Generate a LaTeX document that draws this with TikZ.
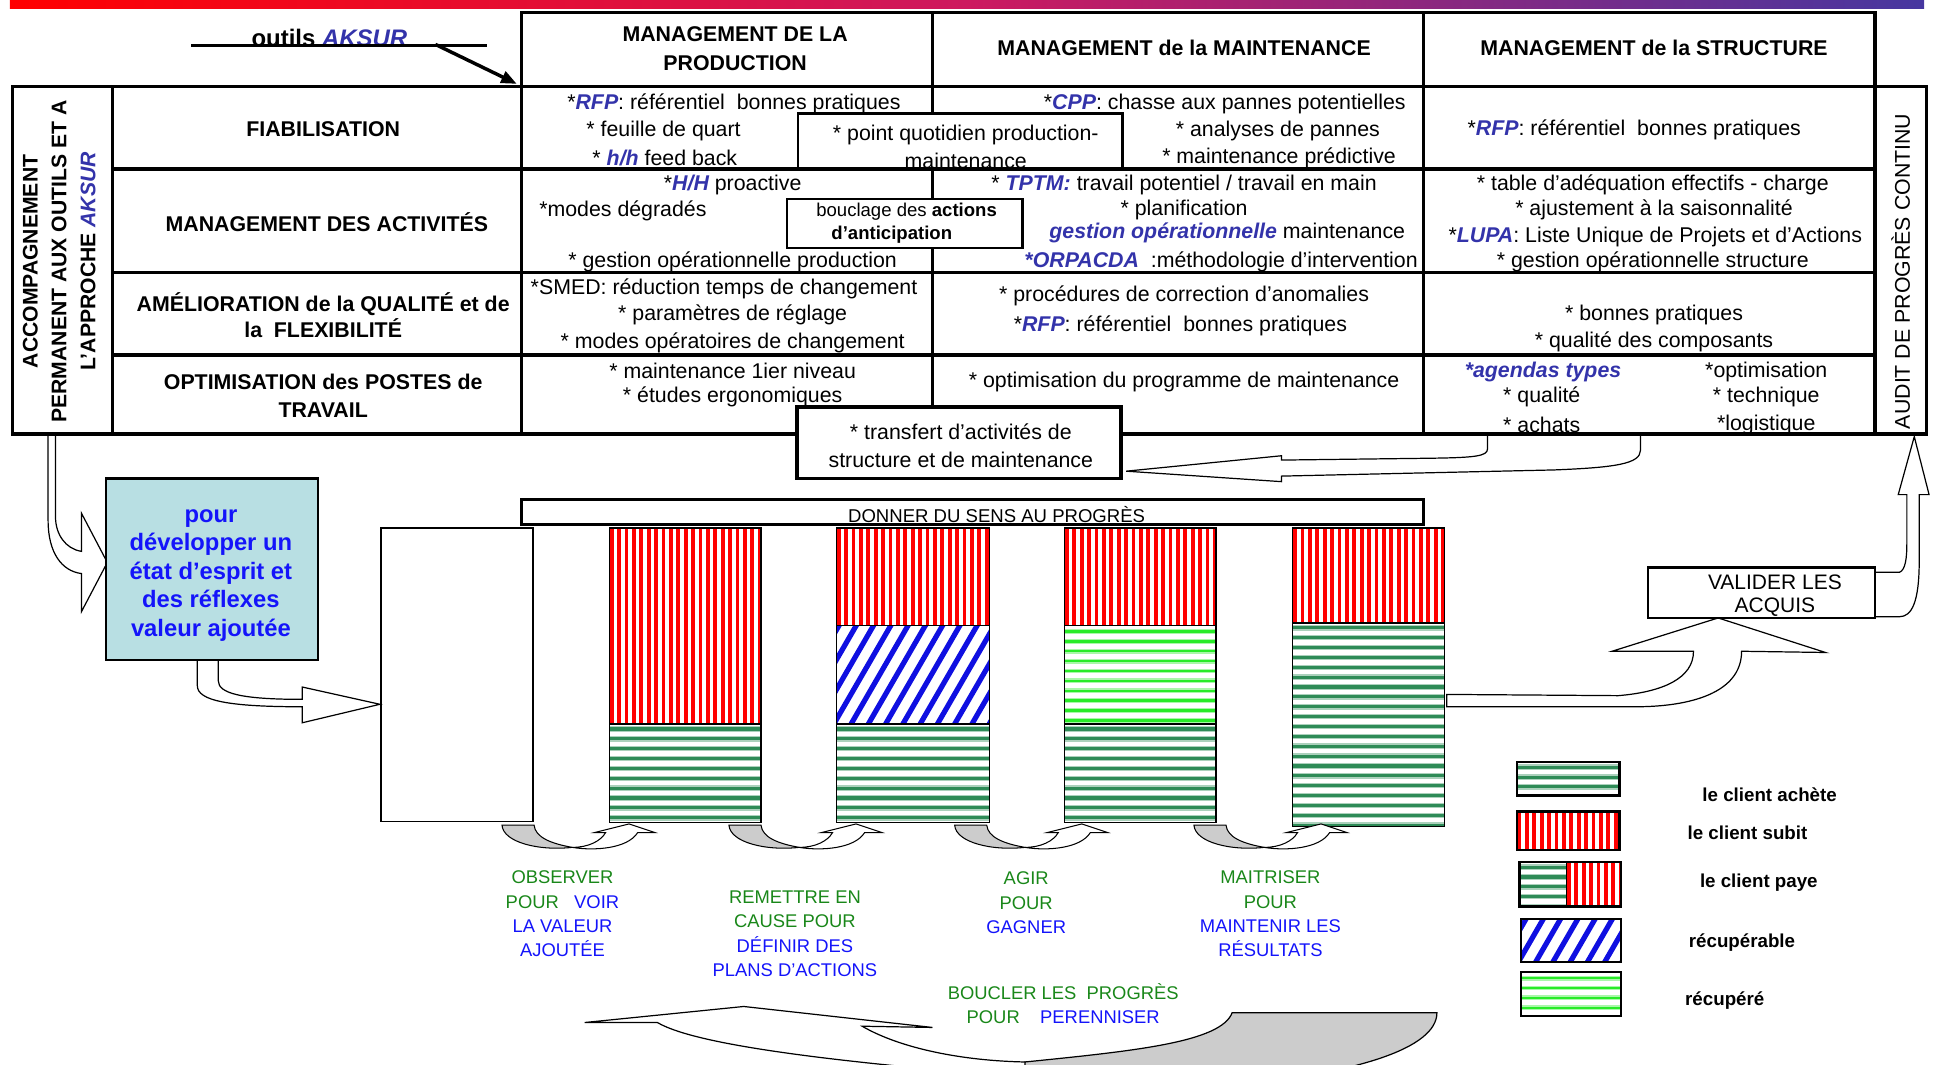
\documentclass[tikz,border=0pt]{standalone}
\usepackage{fontspec}
\setmainfont{Liberation Sans}
\usetikzlibrary{arrows.meta}

\definecolor{aksurblue}{RGB}{51,51,170}
\definecolor{txtblue}{RGB}{20,20,250}
\definecolor{txtgreen}{RGB}{25,135,25}
\definecolor{cyanbox}{RGB}{184,223,227}
\definecolor{achetegreen}{RGB}{46,139,87}
\definecolor{recupgreen}{RGB}{40,235,40}
\definecolor{hatchblue}{RGB}{15,15,225}
\definecolor{barmid}{RGB}{205,25,95}
\definecolor{barend}{RGB}{70,55,160}

\newcommand{\ak}[1]{\textcolor{aksurblue}{\bfseries\itshape #1}}
\newcommand{\gr}[1]{\textcolor{txtgreen}{#1}}
\newcommand{\bl}[1]{\textcolor{txtblue}{#1}}

\newcommand{\subit}[4]{%
\begin{scope}
\clip (#1,#2) rectangle (#3,#4);
\fill[white] (#1,#2) rectangle (#3,#4);
\foreach \s in {0,6,...,126}
  \draw[red,line width=2.2pt] ({#1+\s+2},#2) -- ({#1+\s+2},#4);
\end{scope}
\draw[line width=0.8pt] (#1,#2) rectangle (#3,#4);}

\newcommand{\achete}[4]{%
\begin{scope}
\clip (#1,#2) rectangle (#3,#4);
\fill[white] (#1,#2) rectangle (#3,#4);
\foreach \s in {0,8,...,168} {
  \draw[achetegreen!40,line width=3.2pt] (#1,{#2+\s+4}) -- (#3,{#2+\s+4});
  \draw[achetegreen,line width=1.8pt] (#1,{#2+\s+4}) -- (#3,{#2+\s+4});}
\end{scope}
\draw[line width=0.8pt] (#1,#2) rectangle (#3,#4);}

\newcommand{\recupere}[4]{%
\begin{scope}
\clip (#1,#2) rectangle (#3,#4);
\fill[white] (#1,#2) rectangle (#3,#4);
\foreach \s in {0,8,...,168} {
  \draw[recupgreen!40,line width=2.8pt] (#1,{#2+\s+5}) -- (#3,{#2+\s+5});
  \draw[recupgreen,line width=1.4pt] (#1,{#2+\s+5}) -- (#3,{#2+\s+5});}
\end{scope}
\draw[line width=0.8pt] (#1,#2) rectangle (#3,#4);}

\newcommand{\recuperable}[4]{%
\begin{scope}
\clip (#1,#2) rectangle (#3,#4);
\fill[white] (#1,#2) rectangle (#3,#4);
\foreach \s in {-100,-86,...,130}
  \draw[hatchblue,line width=3pt] ({#1+\s},#4) -- ++(70,-121);
\end{scope}
\draw[line width=0.8pt] (#1,#2) rectangle (#3,#4);}

\newcommand{\uturn}[1]{%
\path[fill=gray!40,draw,line width=0.6pt] (#1,669) .. controls ({#1+1},683) and ({#1+30},690) .. ({#1+57},687)
  .. controls ({#1+40},684) and ({#1+27},679) .. ({#1+26},669) -- cycle;
\path[fill=white,draw,line width=0.6pt] ({#1+57},687) .. controls ({#1+70},687) and ({#1+80},682) .. ({#1+84},675)
  -- ({#1+75},675) -- ({#1+103},668) -- ({#1+124},675) -- ({#1+110},675)
  .. controls ({#1+102},688) and ({#1+75},690) .. ({#1+57},687) -- cycle;}

\begin{document}
\begin{tikzpicture}[x=0.025cm,y=-0.025cm,
txt/.style={inner sep=0pt,align=center,font=\fontsize{12.3}{15.8}\selectfont},
hd/.style={inner sep=0pt,align=center,font=\fontsize{12.3}{16.4}\selectfont\bfseries},
lab/.style={inner sep=0pt,align=center,font=\fontsize{10.6}{14}\selectfont},
leg/.style={inner sep=0pt,anchor=west,font=\fontsize{10.8}{13}\selectfont\bfseries},
tbl/.style={line width=2pt,line cap=rect},
blk/.style={fill=white,draw,line width=0.7pt}]

\useasboundingbox (0,0) rectangle (1568,863);
\clip (0,0) rectangle (1568,863);

\shade[left color=red,right color=barend,middle color=barmid] (8,0) rectangle (1560,7);

\path[blk] (1206,352) -- (1206,364) .. controls (1206,370) and (1195,371) .. (1160,371.5) -- (1039,373) -- (1039,369.5)
  -- (913,382) -- (1039,390.5) -- (1039,386) -- (1260,381) .. controls (1310,379) and (1330,376) .. (1330,365) -- (1330,352);
\path[blk] (39,352) -- (39,422) .. controls (39,448) and (50,463) .. (66,465) -- (66,496) -- (87,456) -- (66,416)
  -- (66,447) .. controls (53,445) and (45,433) .. (45,419) -- (45,352);
\path[blk] (160,535) -- (160,556) .. controls (160,568) and (185,573) .. (245,573) -- (245,586) -- (308,571) -- (245,557)
  -- (245,567) .. controls (195,567) and (177,562) .. (177,552) -- (177,535);
\path[blk] (1173,563) -- (1312,564) .. controls (1348,561) and (1373,550) .. (1373,528) -- (1307,528) -- (1393,501)
  -- (1480,529) -- (1412,528) .. controls (1412,562) and (1370,573) .. (1326,573) -- (1173,573) -- cycle;
\path[blk] (1520,464) -- (1540,464) .. controls (1545,462) and (1546,452) .. (1546,440) -- (1546,401) -- (1539,401)
  -- (1552,354) -- (1564,401) -- (1556,401) -- (1556,455) .. controls (1556,488) and (1550,500) .. (1540,500) -- (1520,500);

\draw[tbl] (423,10) -- (1520,10);
\draw[tbl] (10,70) rectangle (1562,352);
\foreach \y in {137,221,288} \draw[tbl] (91,\y) -- (1520,\y);
\foreach \x in {423,756,1154,1520} \draw[tbl] (\x,10) -- (\x,352);
\draw[tbl] (91,70) -- (91,352);

\fill[white] (647,92) rectangle (910,135.5);
\draw[line width=1.4pt] (647,137) -- (647,92) -- (910,92) -- (910,137);
\draw[fill=white,line width=1.2pt] (638,161) rectangle (829,201);
\draw[fill=white,line width=2.2pt] (646,330) rectangle (909,388);

\node[hd] (1) at (596,39.5) {MANAGEMENT DE LA\\PRODUCTION};
\node[hd] (2) at (960,39) {MANAGEMENT de la MAINTENANCE};
\node[hd] (3) at (1341,39) {MANAGEMENT de la STRUCTURE};
\node[hd] (4) at (262,105) {FIABILISATION};
\node[hd] (5) at (265,180) {MANAGEMENT DES ACTIVITÉS};
\node[hd,font=\fontsize{12.3}{15}\selectfont\bfseries] (6) at (262,255.5) {AMÉLIORATION de la QUALITÉ et de\\la\ \ FLEXIBILITÉ};
\node[hd,font=\fontsize{12.3}{16}\selectfont\bfseries] (7) at (262,321) {OPTIMISATION des POSTES de\\TRAVAIL};

\node[txt] (8) at (595,84) {*\ak{RFP}: référentiel\ \ bonnes pratiques};
\node[txt] (9) at (538,106) {* feuille de quart};
\node[txt] (10) at (539,128) {* \ak{h/h} feed back};
\node[txt] (11) at (783,119) {* point quotidien production-\\maintenance};
\node[txt] (12) at (594,150) {*\ak{H/H} proactive};
\node[txt] (13) at (505,171) {*modes dégradés};
\node[txt,font=\fontsize{10.7}{13}\selectfont] (14) at (735,172) {bouclage des \textbf{actions}};
\node[txt,font=\fontsize{10.7}{13}\selectfont\bfseries] (15) at (723,190) {d'anticipation};
\node[txt] (16) at (594,212) {* gestion opérationnelle production};
\node[txt] (17) at (587,234) {*SMED: réduction temps de changement};
\node[txt] (18) at (594,255) {* paramètres de réglage};
\node[txt] (19) at (594,278) {* modes opératoires de changement};
\node[txt] (20) at (594,301) {* maintenance 1ier niveau};
\node[txt] (21) at (594,322) {* études ergonomiques};

\node[txt] (22) at (993,84) {*\ak{CPP}: chasse aux pannes potentielles};
\node[txt] (23) at (1036,106) {* analyses de pannes};
\node[txt] (24) at (1037,128) {* maintenance prédictive};
\node[txt] (25) at (960,150) {* \ak{TPTM:} travail potentiel / travail en main};
\node[txt] (26) at (960,170) {* planification};
\node[txt] (27) at (995,189) {\ak{gestion opérationnelle} maintenance};
\node[txt] (28) at (990,212) {\ak{*ORPACDA}\ \ :méthodologie d'intervention};
\node[txt] (29) at (960,240) {* procédures de correction d'anomalies};
\node[txt] (30) at (957,264) {*\ak{RFP}: référentiel\ \ bonnes pratiques};
\node[txt] (31) at (960,310) {* optimisation du programme de maintenance};

\node[txt] (32) at (1325,105) {*\ak{RFP}: référentiel\ \ bonnes pratiques};
\node[txt] (33) at (1340,150) {* table d'adéquation effectifs - charge};
\node[txt] (34) at (1341,170) {* ajustement à la saisonnalité};
\node[txt] (35) at (1342,192) {*\ak{LUPA}: Liste Unique de Projets et d'Actions};
\node[txt] (36) at (1340,212) {* gestion opérationnelle structure};
\node[txt] (37) at (1341,255) {* bonnes pratiques};
\node[txt] (38) at (1341,277) {* qualité des composants};
\node[txt] (39) at (1251,301.5) {\ak{*agendas types}};
\node[txt] (40) at (1250,322) {* qualité};
\node[txt] (41) at (1250,344.5) {* achats};
\node[txt] (42) at (1432,301.5) {*optimisation};
\node[txt] (43) at (1432,322) {* technique};
\node[txt] (44) at (1432,344.5) {*logistique};

\node[txt,rotate=90] (45) at (1541,220) {AUDIT DE PROGRÈS CONTINU};
\node[hd,rotate=90,font=\fontsize{12.2}{16.7}\selectfont\bfseries] (46) at (48,212) {ACCOMPAGNEMENT\\PERMANENT AUX OUTILS ET A\\L'APPROCHE \ak{AKSUR}};

\node[hd,font=\fontsize{13.8}{16}\selectfont\bfseries] (47) at (267,30.5) {outils \ak{AKSUR}};
\draw[line width=1.5pt] (155,37) -- (395,37);
\coordinate (o1) at (353,36);
\coordinate (o2) at (419,68);
\path[draw,line width=2pt,-{Triangle[length=9pt,width=7pt]}] (o1) -- (o2);

\node[txt,font=\fontsize{12.3}{16.4}\selectfont] (48) at (779,361.5) {* transfert d'activités de\\structure et de maintenance};

\draw[line width=1.5pt] (423,405) rectangle (1154,425);
\node[txt,font=\fontsize{10.7}{13}\selectfont] (49) at (808,417) {DONNER DU SENS AU PROGRÈS};
\draw[line width=0.8pt] (309,428) rectangle (432,666);

\draw[fill=cyanbox,line width=1.3pt] (86,388) rectangle (258,535);
\node[inner sep=0pt,align=center,font=\fontsize{13.7}{16.4}\selectfont\bfseries,text=txtblue] (50) at (171,466.5)
  {pour\\développer un\\état d'esprit et\\des réflexes\\valeur ajoutée};

\draw[fill=white,line width=1.3pt] (1336,460) rectangle (1520,501);
\node[txt,font=\fontsize{12.1}{13.5}\selectfont] (51) at (1439,483) {VALIDER LES\\ACQUIS};

\subit{494}{428}{617}{587}
\achete{494}{587}{617}{667}
\subit{678}{428}{802}{507}
\recuperable{678}{507}{802}{587}
\achete{678}{587}{802}{667}
\subit{863}{428}{986}{507}
\recupere{863}{507}{986}{587}
\achete{863}{587}{986}{667}
\subit{1048}{428}{1171}{505}
\achete{1048}{505}{1171}{670}

\uturn{407}
\uturn{591}
\uturn{774}
\uturn{968}

\path[blk] (474,829) -- (603,816) -- (756,833) -- (699,832) .. controls (730,850) and (780,860) .. (831,861) -- (880,870)
  -- (790,870) .. controls (650,858) and (560,845) .. (533,829) -- cycle;
\path[fill=gray!40,draw,line width=0.7pt] (831,861) .. controls (920,852) and (990,845) .. (999,821) -- (1165,821)
  .. controls (1165,850) and (1100,870) .. (1000,880) -- (831,870) -- cycle;

\node[lab] (52) at (456,741) {\gr{OBSERVER}\\\gr{POUR}\ \ \ \bl{VOIR}\\\bl{LA VALEUR}\\\bl{AJOUTÉE}};
\node[lab] (53) at (644.5,757) {\gr{REMETTRE EN}\\\gr{CAUSE POUR}\\\bl{DÉFINIR DES}\\\bl{PLANS D'ACTIONS}};
\node[lab] (54) at (832,732) {\gr{AGIR}\\\gr{POUR}\\\bl{GAGNER}};
\node[lab] (55) at (1030,741) {\gr{MAITRISER}\\\gr{POUR}\\\bl{MAINTENIR LES}\\\bl{RÉSULTATS}};
\node[lab] (56) at (862,813.5) {\gr{BOUCLER LES\ \ PROGRÈS}\\\gr{POUR}\ \ \ \ \bl{PERENNISER}};

\achete{1230}{618}{1313}{645}
\subit{1230}{658}{1313}{689}
\achete{1232}{699}{1270}{735}
\subit{1270}{699}{1314}{735}
\recuperable{1233}{745}{1314}{780}
\recupere{1233}{788}{1314}{824}
\foreach \a/\b/\c/\d in {1230/618/1313/645,1230/658/1313/689,1232/699/1314/735,1233/745/1314/780,1233/788/1314/824}
  \draw[line width=1.3pt] (\a,\b) rectangle (\c,\d);

\node[leg] (57) at (1380,644) {le client achète};
\node[leg] (58) at (1368,675) {le client subit};
\node[leg] (59) at (1378,716) {le client paye};
\node[leg] (60) at (1369,764) {récupérable};
\node[leg] (61) at (1366,811) {récupéré};
\end{tikzpicture}
\end{document}
